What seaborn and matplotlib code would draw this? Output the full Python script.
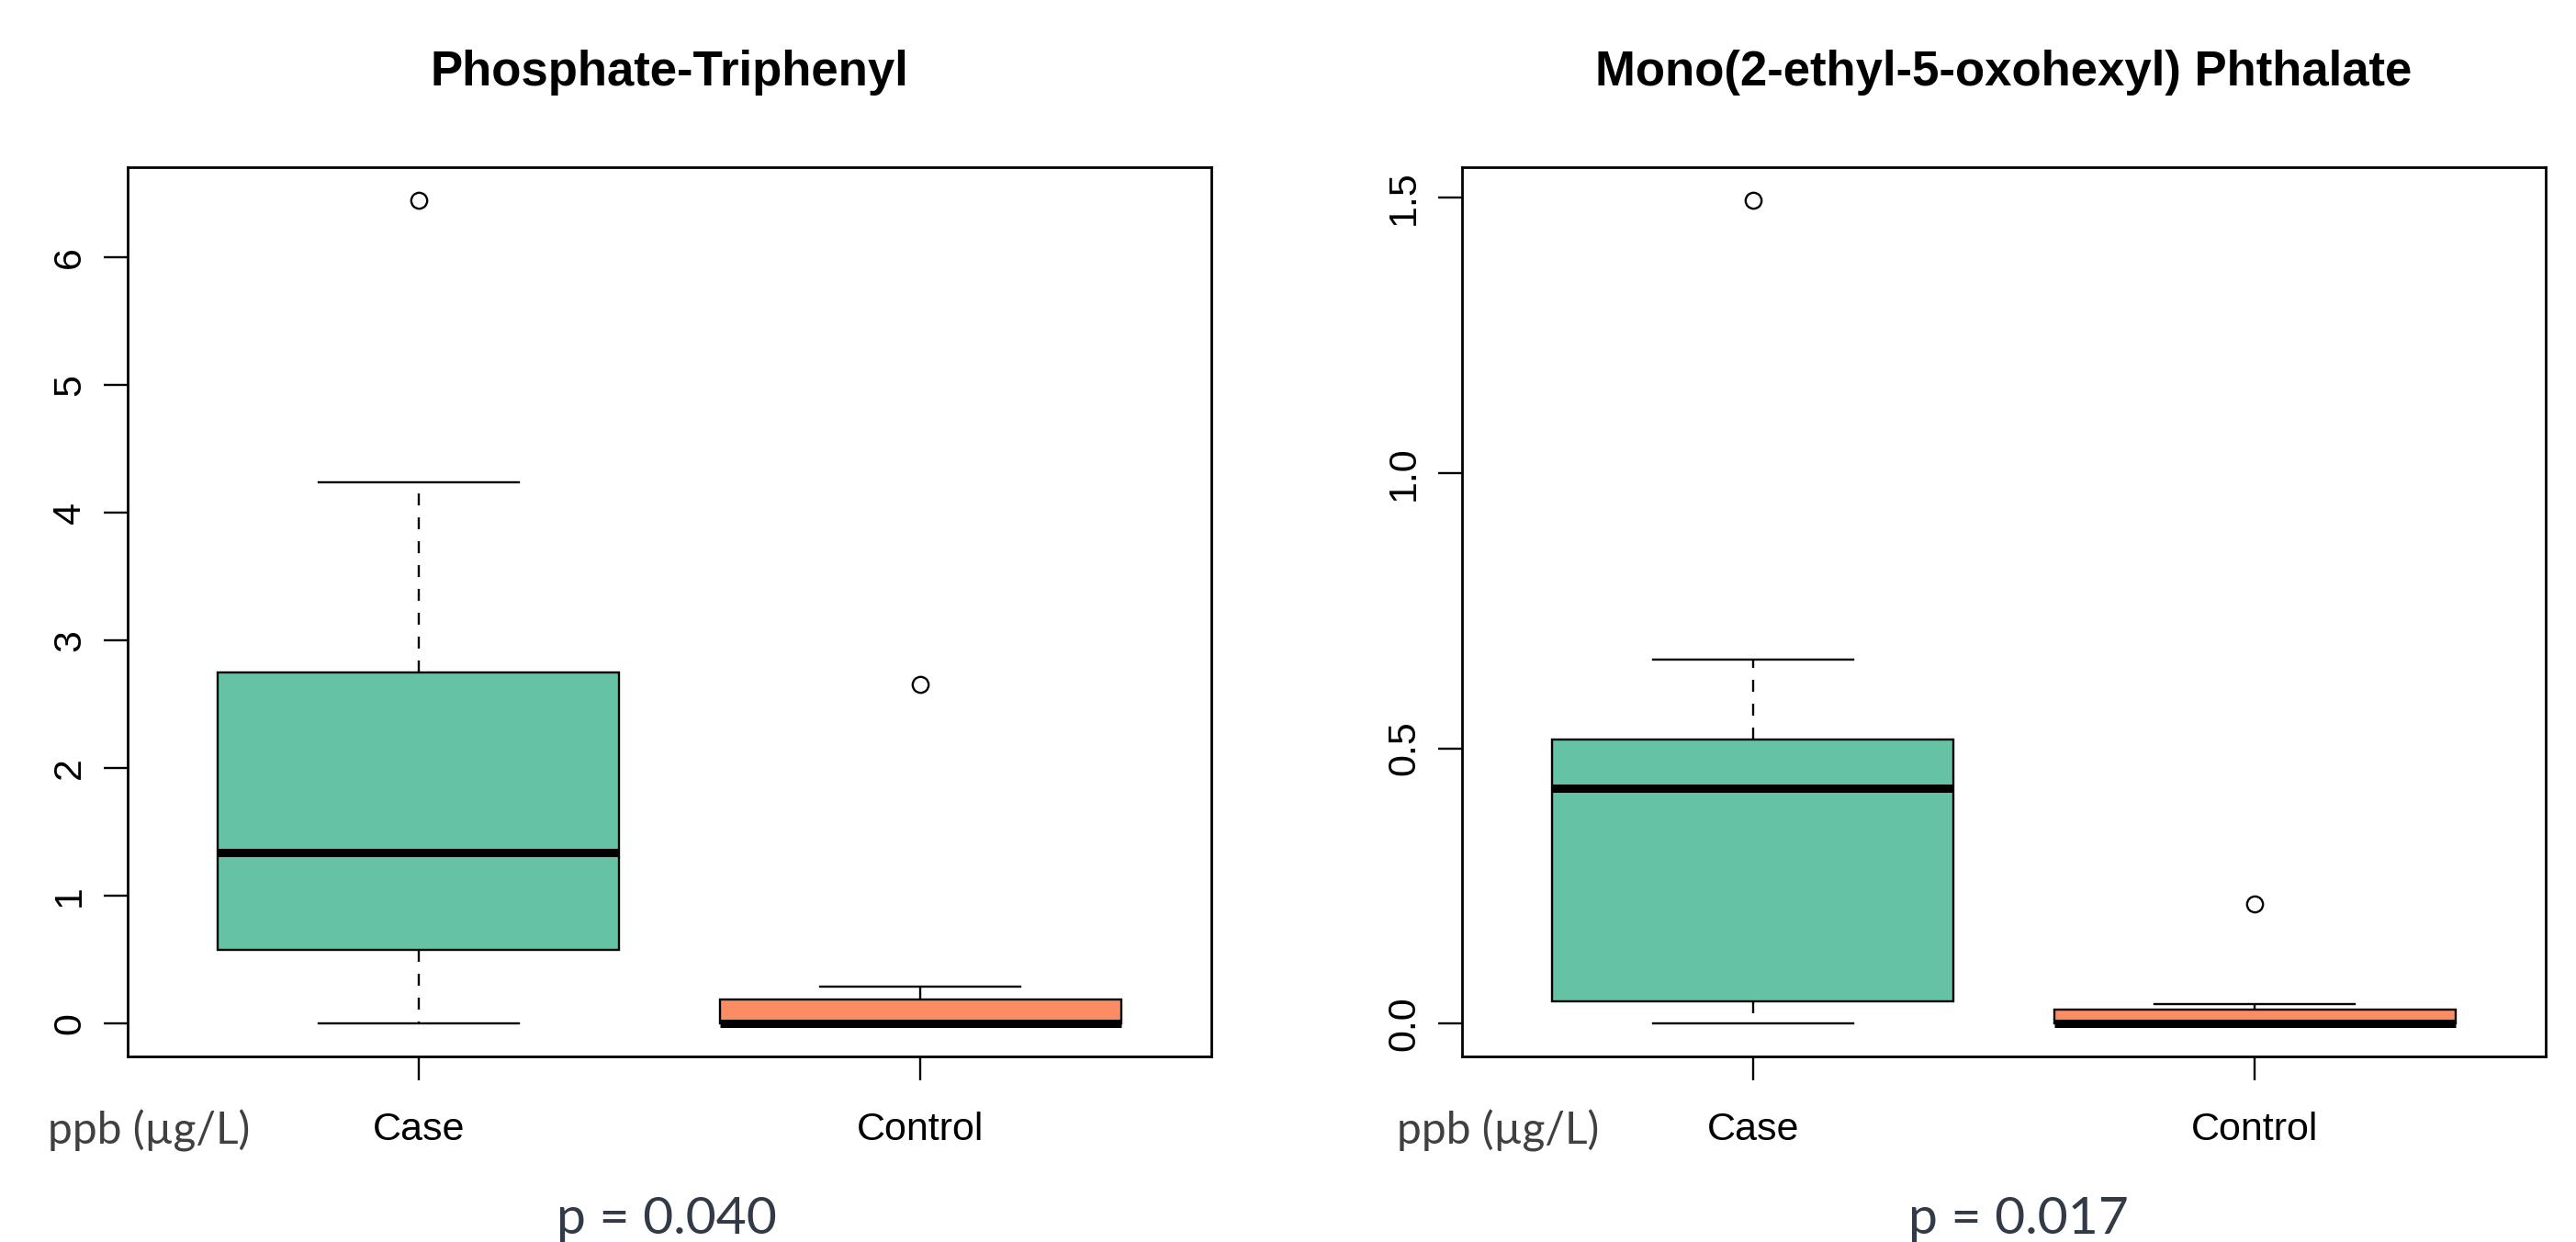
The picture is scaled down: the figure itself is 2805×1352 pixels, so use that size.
import numpy as np
import pandas as pd
import matplotlib
matplotlib.use("Agg")
import matplotlib.pyplot as plt
import seaborn as sns

# ---------------- data ----------------
groups = ["Case", "Control"]
titles = ["Phosphate-Triphenyl", "Mono(2-ethyl-5-oxohexyl) Phthalate"]
tpp_case = [0.0, 0.21, 0.577, 0.95, 1.343, 1.98, 2.751, 4.24, 6.45]
tpp_control = [0.0, 0.0, 0.0, 0.0, 0.0, 0.08, 0.19, 0.29, 2.66]
meohp_case = [0.0, 0.012, 0.0395, 0.31, 0.428, 0.47, 0.516, 0.661, 1.496]
meohp_control = [0.0, 0.0, 0.0, 0.0, 0.0, 0.01, 0.0248, 0.035, 0.217]
p_values = ["p = 0.040", "p = 0.017"]
unit_label = "ppb (µg/L)"
yticks_tpp = [0, 1, 2, 3, 4, 5, 6]
ytick_labels_tpp = ["0", "1", "2", "3", "4", "5", "6"]
yticks_meohp = [0.0, 0.5, 1.0, 1.5]
ytick_labels_meohp = ["0.0", "0.5", "1.0", "1.5"]
colors = ["#66C2A5", "#FC8D62"]

plt.rcParams["font.family"] = ["Liberation Sans", "DejaVu Sans"]

def long_df(case, control):
    return pd.DataFrame({
        "group": [groups[0]] * len(case) + [groups[1]] * len(control),
        "value": list(case) + list(control),
    })

panels = [
    (long_df(tpp_case, tpp_control), yticks_tpp, ytick_labels_tpp),
    (long_df(meohp_case, meohp_control), yticks_meohp, ytick_labels_meohp),
]

fig = plt.figure(figsize=(28.05, 13.52), dpi=100)
ax_rects = [
    [139 / 2805, 1 - 1150 / 1352, 1180 / 2805, 968 / 1352],
    [1592 / 2805, 1 - 1150 / 1352, 1180 / 2805, 968 / 1352],
]
ppb_x = [51.7 / 2805, 1520.6 / 2805]
p_x = [726 / 2805, 2198 / 2805]

for i, (df, yt, ytl) in enumerate(panels):
    ax = fig.add_axes(ax_rects[i])
    sns.boxplot(
        data=df, x="group", y="value", hue="group", order=groups,
        hue_order=groups, palette=colors, saturation=1, legend=False,
        width=0.8, whis=1.5, linecolor="black", linewidth=1.7, ax=ax,
        whiskerprops={"linestyle": (0, (5.5, 5.5))},
        medianprops={"linewidth": 6.5},
        flierprops={"marker": "o", "markerfacecolor": "none",
                    "markeredgecolor": "black", "markersize": 12.5,
                    "markeredgewidth": 1.7},
    )
    vals = df["value"].to_numpy()
    rng = vals.max() - vals.min()
    ax.set_ylim(vals.min() - 0.04 * rng, vals.max() + 0.04 * rng)
    ax.set_xlim(-0.58, 1.58)
    ax.set_xlabel("")
    ax.set_ylabel("")
    ax.set_yticks(yt)
    ax.set_yticklabels(ytl, rotation=90, va="center")
    ax.set_xticks([0, 1])
    ax.set_xticklabels(groups)
    for s in ax.spines.values():
        s.set_visible(True)
        s.set_linewidth(2.0)
        s.set_color("black")
    ax.tick_params(axis="both", direction="out", length=19, width=1.7,
                   color="black", labelsize=31, labelcolor="black")
    ax.tick_params(axis="x", pad=24)
    ax.tick_params(axis="y", pad=12)
    ax.grid(False)
    ax.set_facecolor("white")
    ax.set_title(titles[i], fontsize=38, fontweight="bold", pad=64)

    fig.text(ppb_x[i], 1 - 1245 / 1352, unit_label, family=["Lato", "DejaVu Sans"],
             fontsize=34.5, color="#404040", ha="left", va="baseline")
    fig.text(p_x[i], 1 - 1343 / 1352, p_values[i], family=["Lato", "DejaVu Sans"],
             fontsize=41, color="#333a47", ha="center", va="baseline")

fig.savefig("out.png", dpi=100, facecolor="white")
